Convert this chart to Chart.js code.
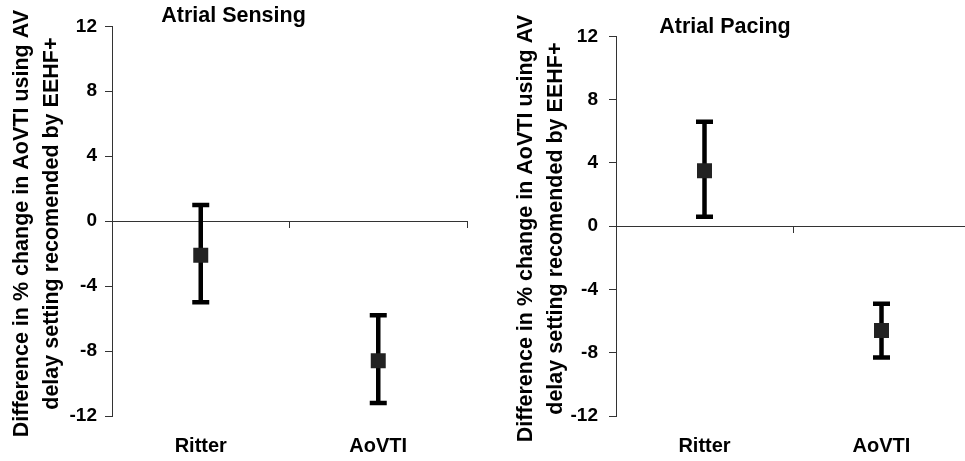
<!DOCTYPE html>
<html>
<head>
<meta charset="utf-8">
<script src="https://cdn.jsdelivr.net/npm/chart.js@4/dist/chart.umd.min.js"></script>
<style>
  html, body { margin: 0; padding: 0; background: #fff; overflow: hidden; }
  body { width: 965px; height: 461px; position: relative; }
  canvas { position: absolute; top: 0; }
  #sensing { left: 0; }
  #pacing { left: 480px; }
</style>
</head>
<body>
<canvas id="sensing" width="469" height="461"></canvas>
<canvas id="pacing" width="515" height="461"></canvas>
<script>
// categories + values
const categories = ["Ritter", "AoVTI"];
const yTicks = [-12, -8, -4, 0, 4, 8, 12];

// atrial sensing panel
const sensingMean = [-2.1, -8.6];
const sensingLow = [-5.0, -11.2];
const sensingHigh = [1.0, -5.8];

// atrial pacing panel
const pacingMean = [3.5, -6.6];
const pacingLow = [0.6, -8.3];
const pacingHigh = [6.6, -4.9];

const yTitle = ["Difference in % change in AoVTI using AV", "delay setting recomended by EEHF+"];

// error bars drawn under the square markers
const errorBars = {
  id: "errorBars",
  beforeDatasetsDraw(chart, args, opts) {
    const ctx = chart.ctx;
    const xs = chart.scales.x;
    const ys = chart.scales.y;
    ctx.save();
    ctx.strokeStyle = "#000";
    ctx.lineWidth = 4.5;
    ctx.lineCap = "butt";
    opts.low.forEach((lo, i) => {
      const x = xs.getPixelForValue(i);
      const yLo = ys.getPixelForValue(lo);
      const yHi = ys.getPixelForValue(opts.high[i]);
      ctx.beginPath();
      ctx.moveTo(x, yHi);
      ctx.lineTo(x, yLo);
      ctx.moveTo(x - 8.5, yHi);
      ctx.lineTo(x + 8.5, yHi);
      ctx.moveTo(x - 8.5, yLo);
      ctx.lineTo(x + 8.5, yLo);
      ctx.stroke();
    });
    ctx.restore();
  },
};

// rotated two-line y title (scale title would squeeze it to the axis height)
const sideTitle = {
  id: "sideTitle",
  afterDraw(chart, args, opts) {
    const ctx = chart.ctx;
    const ys = chart.scales.y;
    ctx.save();
    ctx.translate(opts.x, (ys.top + ys.bottom) / 2 + opts.dy);
    ctx.rotate(-Math.PI / 2);
    ctx.font = "bold 21.5px 'Liberation Sans', Arial, sans-serif";
    ctx.fillStyle = "#000";
    ctx.textAlign = "center";
    ctx.textBaseline = "alphabetic";
    opts.lines.forEach((line, i) => ctx.fillText(line, 0, i * opts.gap));
    ctx.restore();
  },
};

function makeChart(id, cfg) {
  return new Chart(document.getElementById(id), {
    type: "line",
    data: {
      labels: categories,
      datasets: [
        {
          data: cfg.mean,
          showLine: false,
          pointStyle: "rect",
          pointRadius: 10.6,
          pointHoverRadius: 10.6,
          pointBorderWidth: 0,
          pointBackgroundColor: "#222",
          borderColor: "#222",
        },
      ],
    },
    options: {
      responsive: false,
      animation: false,
      events: [],
      layout: { autoPadding: false, padding: { left: 0, right: cfg.padRight, top: 0, bottom: 0 } },
      plugins: {
        legend: { display: false },
        tooltip: { enabled: false },
        title: {
          display: true,
          text: cfg.title,
          color: "#000",
          font: { family: "'Liberation Sans', Arial, sans-serif", size: 21.5, weight: "bold", lineHeight: 0.85 },
          padding: { top: cfg.titleTop, bottom: cfg.titleBottom },
        },
        errorBars: { low: cfg.low, high: cfg.high },
        sideTitle: { lines: yTitle, x: cfg.titleX, dy: 2.5, gap: 29.5 },
      },
      scales: {
        y: {
          min: -12,
          max: 12,
          afterBuildTicks: (scale) => {
            scale.ticks = yTicks.map((v) => ({ value: v }));
          },
          afterFit: (scale) => {
            scale.width = cfg.yWidth;
          },
          border: { display: true, color: "#333", width: 1 },
          grid: { drawOnChartArea: false, drawTicks: true, tickLength: 7, color: "#333" },
          ticks: {
            color: "#000",
            padding: cfg.tickPad,
            font: { family: "'Liberation Sans', Arial, sans-serif", size: 19, weight: "bold" },
          },
        },
        x: {
          type: "category",
          position: "bottom",
          offset: true,
          afterFit: (scale) => {
            scale.height = 45;
          },
          border: { display: false },
          grid: { display: false, drawTicks: false },
          ticks: {
            color: "#000",
            padding: 18,
            font: { family: "'Liberation Sans', Arial, sans-serif", size: 20, weight: "bold" },
          },
        },
        // axis line crossing at y = 0 with ticks between categories
        x2: {
          type: "category",
          position: { y: 0 },
          offset: true,
          border: { display: true, color: "#333", width: 1 },
          grid: { offset: true, drawOnChartArea: false, drawTicks: true, tickLength: 6, color: "#333" },
          ticks: { display: false },
        },
      },
    },
    plugins: [errorBars, sideTitle],
  });
}

makeChart("sensing", {
  title: "Atrial Sensing",
  mean: sensingMean,
  low: sensingLow,
  high: sensingHigh,
  yWidth: 112,
  padRight: 2,
  titleTop: 7,
  titleBottom: 1,
  titleX: 28,
  tickPad: 8,
});

makeChart("pacing", {
  title: "Atrial Pacing",
  mean: pacingMean,
  low: pacingLow,
  high: pacingHigh,
  yWidth: 136,
  padRight: 25,
  titleTop: 17.5,
  titleBottom: 0.5,
  titleX: 52,
  tickPad: 11,
});
</script>
</body>
</html>
